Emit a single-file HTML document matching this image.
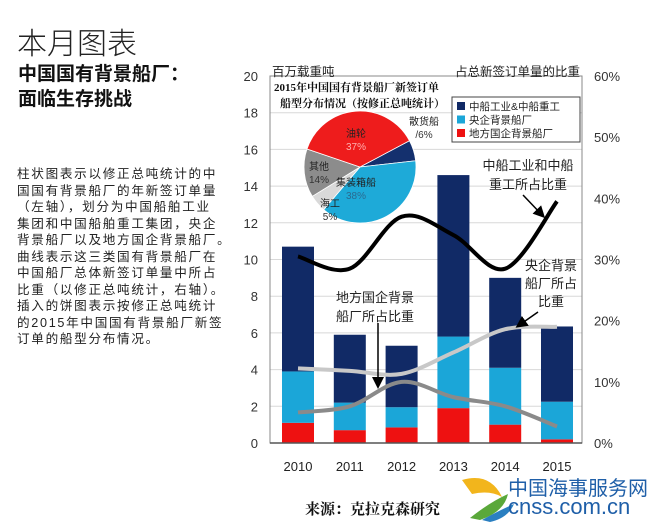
<!DOCTYPE html>
<html><head><meta charset="utf-8"><style>
body{margin:0;width:650px;height:522px;background:#fff;overflow:hidden;position:relative;font-family:"Liberation Sans","Noto Sans CJK SC",sans-serif}
.t{position:absolute;white-space:nowrap}
</style></head><body>
<div class="t" style="left:17px;top:19px;font-size:30px;font-family:'Liberation Sans','Noto Sans CJK SC',sans-serif;font-weight:300;color:#222">本月图表</div>
<div class="t" style="left:18px;top:62px;font-size:19px;font-weight:bold;line-height:25px;color:#111">中国国有背景船厂：<br>面临生存挑战</div>
<div class="t" style="left:17px;top:166px;font-size:12.6px;line-height:16.5px;letter-spacing:1.7px;color:#222">柱状图表示以修正总吨统计的中<br>国国有背景船厂的年新签订单量<br>（左轴），划分为中国船舶工业<br>集团和中国船舶重工集团，央企<br>背景船厂以及地方国企背景船厂。<br>曲线表示这三类国有背景船厂在<br>中国船厂总体新签订单量中所占<br>比重（以修正总吨统计，右轴）。<br>插入的饼图表示按修正总吨统计<br>的2015年中国国有背景船厂新签<br>订单的船型分布情况。</div>
<div class="t" style="left:305px;top:498px;font-size:15px;font-weight:bold;font-family:'Liberation Serif','Noto Serif CJK SC',serif;color:#111">来源：克拉克森研究</div>
<svg class="t" style="left:460px;top:472px" width="55" height="50">
<path d="M2,8 Q30,0 42,25 Q30,18 12,22 Z" fill="#f2b51c"/>
<path d="M10,46 Q30,30 48,22 Q44,40 20,48 Z" fill="#5aa83a"/>
<path d="M22,48 Q40,38 54,32 Q48,46 30,50 Z" fill="#2a7fc1"/>
</svg>
<div class="t" style="left:508px;top:472px;font-size:20px;color:#1f5fa8">中国海事服务网</div>
<div class="t" style="left:508px;top:494px;font-size:22px;color:#1f5fa8">cnss.com.cn</div>

<svg id="chart" class="t" style="left:0;top:0" width="650" height="522"></svg>
<script>
const years=["2010","2011","2012","2013","2014","2015"];
const local=[1.1,0.7,0.85,1.9,1.0,0.2];
const central=[2.8,1.5,1.1,3.9,3.1,2.05];
const cssc=[6.8,3.7,3.35,8.8,4.9,4.1];
const shareCssc=[30.5,28.5,37,34,28.5,39.5];
const shareCentral=[12.2,11.8,11.3,14.8,18.6,19];
const shareLocal=[5,6,10,7.5,6,2.7];
const leftTicks=[0,2,4,6,8,10,12,14,16,18,20];
const rightTicks=[0,10,20,30,40,50,60];
const pieLabels=["散货船","集装箱船","海工","其他","油轮"];
const pieValues=[6,38,5,14,37];
const pieColors=["#14306e","#1eaad8","#d9d9d9","#8c8c8c","#ee1c1c"];

const NS="http://www.w3.org/2000/svg";
const svg=document.getElementById("chart");
const X0=270,X1=582,Y0=443,Y1=76;
const yL=v=>Y0-(v/20)*(Y0-Y1);
const yR=p=>Y0-(p/60)*(Y0-Y1);
const xC=i=>298+i*51.8;
function el(tag,attrs,parent){const e=document.createElementNS(NS,tag);for(const k in attrs)e.setAttribute(k,attrs[k]);(parent||svg).appendChild(e);return e;}
function txt(x,y,s,attrs){const e=el("text",Object.assign({x:x,y:y,"font-size":12,fill:"#333","font-family":"Liberation Sans, Noto Sans CJK SC, sans-serif"},attrs||{}));e.textContent=s;return e;}

leftTicks.forEach(v=>{
  const g=el("line",{x1:X0,x2:X1,y1:yL(v),y2:yL(v),stroke:"#d8d8d8","stroke-width":1});
  
  
  const t=txt(258,yL(v)+5,String(v),{"text-anchor":"end","font-size":13});
  
  
});
rightTicks.forEach(p=>{
  const t=txt(594,yR(p)+5,p+"%",{"font-size":13});
  
  
});
const frame=el("rect",{x:X0,y:Y1,width:X1-X0,height:Y0-Y1,fill:"none",stroke:"#888","stroke-width":1});



years.forEach((yr,i)=>{
  const x=xC(i)-16,w=32;
  const a=local[i],b=a+central[i],c=b+cssc[i];
  const r1=el("rect",{x:x,y:yL(a),width:w,height:yL(0)-yL(a),fill:"#ee1111"});
  
  
  const r2=el("rect",{x:x,y:yL(b),width:w,height:yL(a)-yL(b),fill:"#1ba6d8"});
  
  
  const r3=el("rect",{x:x,y:yL(c),width:w,height:yL(b)-yL(c),fill:"#112a66"});
  
  
  const t=txt(xC(i),471,yr,{"text-anchor":"middle","font-size":13,fill:"#222"});
  
  
});
const xaxis=el("line",{x1:X0,x2:X1,y1:Y0,y2:Y0,stroke:"#555","stroke-width":1.5});



function smooth(vals){
  const pts=vals.map((v,i)=>[xC(i),yR(v)]);
  let d="M"+pts[0][0]+","+pts[0][1];
  for(let i=0;i<pts.length-1;i++){
    const p0=pts[Math.max(0,i-1)],p1=pts[i],p2=pts[i+1],p3=pts[Math.min(pts.length-1,i+2)];
    const c1=[p1[0]+(p2[0]-p0[0])/6,p1[1]+(p2[1]-p0[1])/6];
    const c2=[p2[0]-(p3[0]-p1[0])/6,p2[1]-(p3[1]-p1[1])/6];
    d+=" C"+c1+" "+c2+" "+p2;
  }
  return d;
}
const l1=el("path",{d:smooth(shareCentral),fill:"none",stroke:"#c8c8c8","stroke-width":4});


const l2=el("path",{d:smooth(shareLocal),fill:"none",stroke:"#8a8a8a","stroke-width":4});


const l3=el("path",{d:smooth(shareCssc),fill:"none",stroke:"#000","stroke-width":4});



// axis titles
const at1=txt(272,76,"百万载重吨",{"font-size":12.5,fill:"#222"});


const at2=txt(580,76,"占总新签订单量的比重",{"font-size":12.5,fill:"#222","text-anchor":"end"});



// inset title
const inset=el("rect",{x:272,y:80,width:178,height:32,fill:"#fff"});


const pt1=txt(274,91,"2015年中国国有背景船厂新签订单",{"font-size":11,"font-weight":"bold",fill:"#111","font-family":"Liberation Serif, Noto Serif CJK SC, serif"});


const pt2=txt(280,107,"船型分布情况（按修正总吨统计）",{"font-size":11,"font-weight":"bold",fill:"#111","font-family":"Liberation Serif, Noto Serif CJK SC, serif"});



const cx=360,cy=167,R=56;
const total=pieValues.reduce((a,b)=>a+b,0);
let ang=62;
const pos=[[408,128],[356,186],[330,207],[319,170],[356,137]];
pieValues.forEach((v,i)=>{
  const a0=(ang-90)*Math.PI/180,a1=(ang+v/total*360-90)*Math.PI/180;
  const large=v/total>0.5?1:0;
  const d="M"+cx+","+cy+" L"+(cx+R*Math.cos(a0))+","+(cy+R*Math.sin(a0))+" A"+R+","+R+" 0 "+large+" 1 "+(cx+R*Math.cos(a1))+","+(cy+R*Math.sin(a1))+" Z";
  const s=el("path",{d:d,fill:pieColors[i],stroke:"#fff","stroke-width":0.8});
  
  
  ang+=v/total*360;
});
pieLabels.forEach((lab,i)=>{
  const t1=txt(pos[i][0]+ (i===0?16:0),pos[i][1]+(i===0?-3:0),lab,{"font-size":10,"text-anchor":"middle",fill:"#222"});
  
  
  const t2=txt(pos[i][0]+(i===0?16:0),pos[i][1]+(i===0?10:13),(i===0?"/":"")+pieValues[i]+"%",{"font-size":10,"text-anchor":"middle",fill:i===4?"#ffb0b0":(i===1?"#2a6a90":"#333")});
  
  
});

// legend
const lg=el("rect",{x:452,y:97,width:128,height:45,fill:"#fff",stroke:"#444","stroke-width":1});


const legNames=["中船工业&中船重工","央企背景船厂","地方国企背景船厂"];
const legColors=["#112a66","#1ba6d8","#ee1111"];
legNames.forEach((n,i)=>{
  const r=el("rect",{x:457,y:102+i*13.5,width:8,height:8,fill:legColors[i]});
  
  
  const t=txt(469,110+i*13.5,n,{"font-size":10.5,fill:"#222"});
  
  
});

// annotations
function ann(lines,x,y,name,lh){lines.forEach((s,i)=>{const t=txt(x,y+i*(lh||19),s,{"font-size":13,"text-anchor":"middle",fill:"#222"});});}
ann(["中船工业和中船","重工所占比重"],528,170,"annotation-cssc");
ann(["央企背景","船厂所占","比重"],551,270,"annotation-central",18);
ann(["地方国企背景","船厂所占比重"],375,302,"annotation-local");
el("defs",{}).innerHTML='<marker id="ar" markerWidth="8" markerHeight="8" refX="6" refY="4" orient="auto"><path d="M0,0 L8,4 L0,8 Z" fill="#000"/></marker>';
[[523,195,543,216],[538,312,518,326],[378,323,378,386]].forEach(a=>{
  const l=el("line",{x1:a[0],y1:a[1],x2:a[2],y2:a[3],stroke:"#000","stroke-width":1.5,"marker-end":"url(#ar)"});
  
  
});
</script>
</body></html>
